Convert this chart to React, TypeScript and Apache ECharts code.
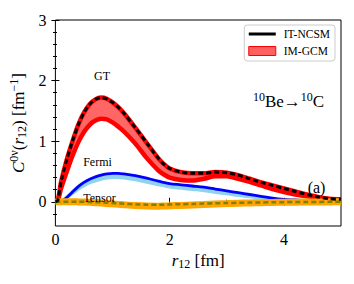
import React, { useEffect, useRef } from "react";
import * as echarts from "echarts";

// r12 sample positions (fm)
const xs = [0, 0.04, 0.1, 0.2, 0.3, 0.4, 0.5, 0.6, 0.7, 0.8, 0.9, 1.0, 1.1, 1.2, 1.4, 1.6, 1.8, 1.9, 2.0, 2.2, 2.4, 2.6, 2.8, 3.0, 3.2, 3.4, 3.6, 3.8, 4.0, 4.2, 4.4, 4.6, 4.8, 5.0];

// GT
const gtItNcsm = [0, 0.02, 0.33, 0.70, 1.00, 1.27, 1.47, 1.61, 1.69, 1.72, 1.70, 1.64, 1.56, 1.46, 1.22, 0.97, 0.72, 0.62, 0.55, 0.49, 0.47, 0.47, 0.49, 0.48, 0.44, 0.38, 0.32, 0.27, 0.22, 0.17, 0.12, 0.08, 0.05, 0.04];
const gtGcmUpper = [0, 0.02, 0.33, 0.70, 1.00, 1.27, 1.47, 1.61, 1.69, 1.72, 1.70, 1.64, 1.56, 1.46, 1.22, 0.97, 0.72, 0.62, 0.55, 0.49, 0.47, 0.47, 0.49, 0.48, 0.44, 0.38, 0.32, 0.27, 0.22, 0.17, 0.12, 0.08, 0.05, 0.04];
const gtGcmLower = [0, 0.01, 0.22, 0.50, 0.76, 0.98, 1.15, 1.27, 1.34, 1.37, 1.36, 1.31, 1.24, 1.16, 0.96, 0.72, 0.52, 0.45, 0.40, 0.36, 0.35, 0.38, 0.42, 0.42, 0.38, 0.33, 0.27, 0.21, 0.16, 0.12, 0.09, 0.06, 0.04, 0.03];

// Fermi
const fermiItNcsm = [null, null, 0, 0.07, 0.16, 0.25, 0.32, 0.37, 0.41, 0.44, 0.46, 0.47, 0.47, 0.46, 0.43, 0.39, 0.34, 0.32, 0.30, 0.28, 0.26, 0.24, 0.21, 0.18, 0.15, 0.12, 0.09, 0.06, 0.04, 0.03, 0.02, 0.02, 0.02, 0.02];
const fermiGcmUpper = [0, 0, 0.02, 0.10, 0.19, 0.27, 0.33, 0.38, 0.41, 0.44, 0.45, 0.46, 0.46, 0.45, 0.42, 0.38, 0.33, 0.31, 0.29, 0.26, 0.24, 0.22, 0.19, 0.16, 0.13, 0.10, 0.07, 0.05, 0.03, 0.02, 0.02, 0.02, 0.02, 0.02];
const fermiGcmLower = [0, 0, 0, 0.05, 0.12, 0.19, 0.25, 0.30, 0.33, 0.36, 0.38, 0.39, 0.39, 0.38, 0.35, 0.31, 0.27, 0.25, 0.23, 0.21, 0.19, 0.17, 0.14, 0.12, 0.09, 0.07, 0.05, 0.03, 0.02, 0.01, 0.01, 0.01, 0.01, 0.01];

// Tensor
const tensorItNcsm = [0, 0, 0, 0, 0, 0, 0, -0.005, -0.008, -0.012, -0.016, -0.02, -0.026, -0.032, -0.042, -0.048, -0.05, -0.048, -0.046, -0.04, -0.035, -0.03, -0.025, -0.02, -0.017, -0.014, -0.011, -0.008, -0.006, -0.004, -0.003, -0.002, -0.001, 0];
const tensorGcm = [0, 0, 0, 0, 0, -0.002, -0.005, -0.01, -0.015, -0.02, -0.027, -0.035, -0.043, -0.05, -0.062, -0.07, -0.072, -0.07, -0.067, -0.06, -0.052, -0.044, -0.036, -0.03, -0.024, -0.019, -0.015, -0.011, -0.008, -0.006, -0.004, -0.003, -0.002, -0.001];

const xMajorTicks = [0, 2, 4];
const xMinorTicks = [1, 3];
const yMajorTicks = [0, 1, 2, 3];
const yMinorTicks = [-0.2, 0.2, 0.4, 0.6, 0.8, 1.2, 1.4, 1.6, 1.8, 2.2, 2.4, 2.6, 2.8];
const legendNames = ["IT-NCSM", "IM-GCM"];

const FONT = "Liberation Serif";

const pairs = (ys: (number | null)[]) => xs.map((x, i) => [x, ys[i]]);

const richMath = (size: number) => ({
  n: { fontFamily: FONT, fontSize: size, color: "#000" },
  i: { fontFamily: FONT, fontSize: size, fontStyle: "italic", color: "#000" },
  sup: { fontFamily: FONT, fontSize: Math.round(size * 0.68), color: "#000", padding: [0, 0, 8, 0] },
  sub: { fontFamily: FONT, fontSize: Math.round(size * 0.68), color: "#000", padding: [7, 0, 0, 0] },
});

const band = (name: string, upper: number[], lower: number[], fill: string, z: number) => ({
  type: "custom",
  name,
  z,
  clip: true,
  data: [[xs[0], upper[0]]],
  itemStyle: { color: fill },
  renderItem: (_params: any, api: any) => {
    const top = upper.map((y, i) => api.coord([xs[i], y]));
    const bottom = lower.map((y, i) => api.coord([xs[i], y])).reverse();
    return {
      type: "polygon",
      shape: { points: top.concat(bottom), smooth: 0 },
      style: { fill, stroke: "none" },
    };
  },
});

export default function App() {
  const ref = useRef<HTMLDivElement>(null);
  useEffect(() => {
    if (!ref.current) return;
    const chart = echarts.init(ref.current, null, { renderer: "svg" });
    const gridRect = { left: 55, right: 13, top: 20, bottom: 58 };
    const tickStyle = { color: "#000", width: 1 };
    const mkX = (grid: number, pos: string, ticks: number[], len: number, main = false) => ({
      type: "value",
      gridIndex: grid,
      position: pos,
      min: 0,
      max: 5,
      axisLine: { show: false },
      splitLine: { show: false },
      axisTick: { show: true, inside: true, length: len, customValues: ticks, lineStyle: tickStyle },
      axisLabel: main
        ? { show: true, customValues: ticks, fontFamily: FONT, fontSize: 16, color: "#000", margin: 5 }
        : { show: false },
      ...(main
        ? {
            name: "{i|r}{sub|12}{n| [fm]}",
            nameLocation: "middle",
            nameGap: 18,
            nameTextStyle: { fontFamily: FONT, fontSize: 17, color: "#000", rich: richMath(17) },
          }
        : {}),
    });
    const mkY = (grid: number, pos: string, ticks: number[], len: number, main = false) => ({
      type: "value",
      gridIndex: grid,
      position: pos,
      min: -0.4,
      max: 3,
      axisLine: { show: false },
      splitLine: { show: false },
      axisTick: { show: true, inside: true, length: len, customValues: ticks, lineStyle: tickStyle },
      axisLabel: main
        ? { show: true, customValues: ticks, fontFamily: FONT, fontSize: 16, color: "#000", margin: 9 }
        : { show: false },
      ...(main
        ? {
            name: "{i|C}{sup|0ν}{n|(}{i|r}{sub|12}{n|) [fm}{sup|−1}{n|]}",
            nameLocation: "middle",
            nameRotate: 90,
            nameGap: 24,
            nameTextStyle: { fontFamily: FONT, fontSize: 17, color: "#000", rich: richMath(17) },
          }
        : {}),
    });

    const line = (name: string, data: any[], color: string, width: number, z: number, type: any = "solid") => ({
      type: "line",
      name,
      data,
      smooth: 0.3,
      symbol: "none",
      z,
      lineStyle: { color, width, type, cap: "butt" },
      itemStyle: { color },
    });

    const option: any = {
      animation: false,
      backgroundColor: "#fff",
      grid: [
        { ...gridRect, show: true, borderColor: "#000", borderWidth: 1, backgroundColor: "transparent" },
        { ...gridRect, show: false },
      ],
      xAxis: [
        mkX(0, "bottom", xMajorTicks, 4, true),
        mkX(0, "top", xMajorTicks, 4),
        mkX(1, "bottom", xMinorTicks, 2),
        mkX(1, "top", xMinorTicks, 2),
      ],
      yAxis: [
        mkY(0, "left", yMajorTicks, 4, true),
        mkY(0, "right", yMajorTicks, 4),
        mkY(1, "left", yMinorTicks, 2),
        mkY(1, "right", yMinorTicks, 2),
      ],
      legend: {
        data: [
          {
            name: legendNames[0],
            itemStyle: { opacity: 0 },
            lineStyle: { type: "solid", width: 3, color: "#000" },
          },
          {
            name: legendNames[1],
            icon: "rect",
            itemStyle: { color: "rgba(255,80,80,0.9)", borderColor: "#ff0000", borderWidth: 1, opacity: 1 },
          },
        ],
        orient: "vertical",
        right: 19,
        top: 25,
        itemWidth: 27,
        itemHeight: 9,
        itemGap: 5,
        padding: [3, 5, 4, 3],
        selectedMode: false,
        backgroundColor: "rgba(255,255,255,0.9)",
        borderColor: "#cccccc",
        borderWidth: 1,
        borderRadius: 3,
        textStyle: { fontFamily: FONT, fontSize: 11.5, color: "#000", lineHeight: 12, padding: [0, 0, 0, 3] },
      },
      series: [
        // GT IM-GCM band
        band(legendNames[1], gtGcmUpper, gtGcmLower, "rgba(255,0,0,0.6)", 1),
        line("gtLowerEdge", pairs(gtGcmLower), "#ff0000", 4.5, 2),
        line("gtUpperEdge", pairs(gtGcmUpper), "#ff0000", 4.5, 2),
        // Fermi IM-GCM band
        band("fermiBand", fermiGcmUpper, fermiGcmLower, "#8fd3f0", 3),
        line("fLowerEdge", pairs(fermiGcmLower), "#8fd3f0", 1.5, 3),
        line("fUpperEdge", pairs(fermiGcmUpper), "#8fd3f0", 1.5, 3),
        line("fermiIt", pairs(fermiItNcsm), "#0000ff", 2.8, 4),
        // Tensor
        line("tensorGcm", pairs(tensorGcm), "#ffa500", 7, 5),
        line("tensorIt", pairs(tensorItNcsm), "#808000", 2.5, 6, [5, 3]),
        // GT IT-NCSM
        line(legendNames[0], pairs(gtItNcsm), "#000000", 3, 7, [5, 3]),
      ],
      graphic: [
        { type: "text", x: 102, y: 76, z: 100, style: { text: "GT", fontFamily: FONT, fontSize: 12, fill: "#000", align: "center", verticalAlign: "middle" } },
        { type: "text", x: 97.5, y: 162, z: 100, style: { text: "Fermi", fontFamily: FONT, fontSize: 12, fill: "#000", align: "center", verticalAlign: "middle" } },
        { type: "text", x: 99.5, y: 198, z: 100, style: { text: "Tensor", fontFamily: FONT, fontSize: 12, fill: "#000", align: "center", verticalAlign: "middle" } },
        { type: "text", x: 316.5, y: 187, z: 100, style: { text: "(a)", fontFamily: FONT, fontSize: 16, fill: "#000", align: "center", verticalAlign: "middle" } },
        {
          type: "text",
          x: 288.5,
          y: 101,
          z: 100,
          style: {
            text: "{sup|10}{n|Be→}{sup|10}{n|C}",
            align: "center",
            verticalAlign: "middle",
            rich: richMath(17),
          },
        },
      ],
    };
    chart.setOption(option);
    return () => chart.dispose();
  }, []);
  return <div ref={ref} style={{ position: "fixed", left: 0, top: 0, width: 354, height: 284 }} />;
}
